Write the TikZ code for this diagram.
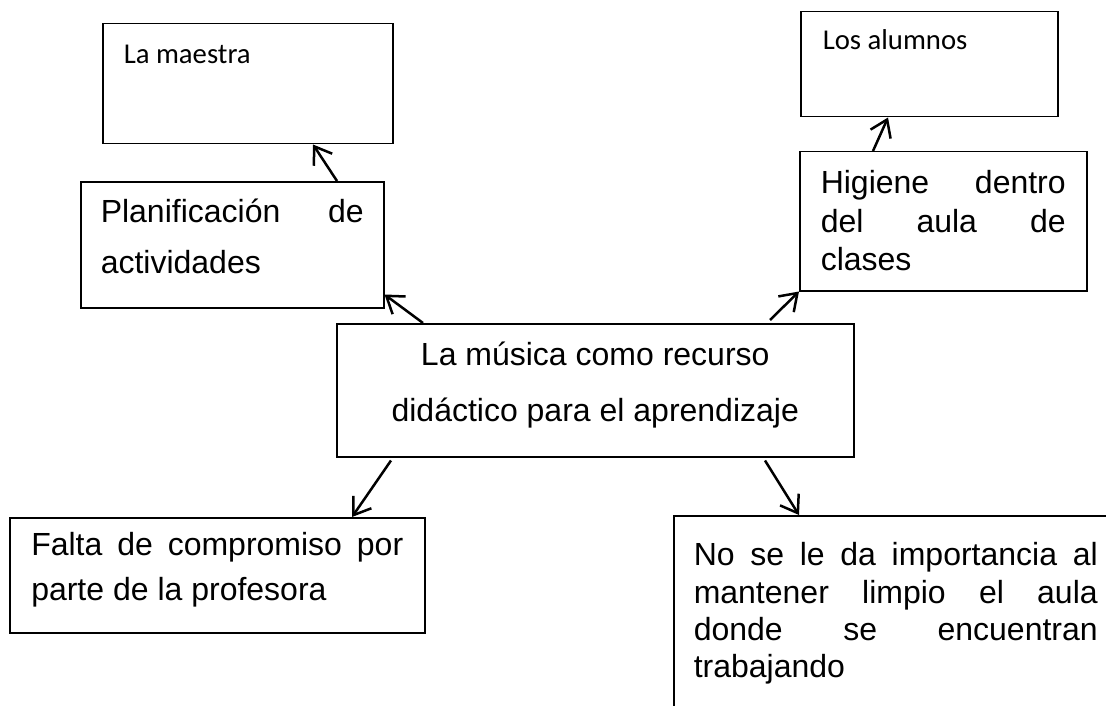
\documentclass[tikz,border=0pt]{standalone}
\usepackage{fontspec}
\setmainfont{Liberation Sans}
\newfontfamily\calibri{Carlito}
\usetikzlibrary{positioning,arrows.meta}

% box text: width, height, first baseline, text
\newcommand{\boxtxt}[4]{\parbox[c][#2][t]{#1}{\hyphenpenalty=10000\rule{0pt}{#3}#4}}

\begin{document}
\begin{tikzpicture}[x=1pt,y=-1pt,
box/.style={draw,rectangle,line width=1.5pt,inner ysep=0pt,anchor=north west},
arr/.style={-{Straight Barb[length=16pt,width=22pt]},line width=2.5pt}]
\useasboundingbox (0,0) rectangle (1106,706);
\clip (0,0) rectangle (1106,706);

\node (maestra) [box,inner xsep=21pt] at (102,23)
    {\boxtxt{248pt}{120pt}{40pt}{\calibri\fontsize{28.7}{34}\selectfont La maestra}};
\node (alumnos) [box,inner xsep=22pt] at (800,11)
    {\boxtxt{213pt}{105pt}{38pt}{\calibri\fontsize{28.7}{34}\selectfont Los alumnos}};

\node (plan) [box,inner xsep=20pt] at (80,181)
    {\boxtxt{263pt}{126pt}{41pt}{\fontsize{32}{51}\selectfont
    Planificación de\linebreak actividades}};
\node (higiene) [box,inner xsep=21pt] at (799,151)
    {\boxtxt{245pt}{139pt}{42pt}{\fontsize{32}{38.5}\selectfont
    Higiene dentro\linebreak del aula de\linebreak clases}};

\node (centro) [box,inner xsep=0pt] at (336,323)
    {\boxtxt{517pt}{133pt}{42pt}{\centering\fontsize{32}{55.5}\selectfont
    La música como recurso\\ didáctico para el aprendizaje}};

\node (falta) [box,inner xsep=21.5pt] at (9,517)
    {\boxtxt{372pt}{115pt}{38pt}{\fontsize{32}{45}\selectfont
    Falta de compromiso por\linebreak parte de la profesora}};
\node (limpio) [box,inner xsep=20pt] at (673,515)
    {\boxtxt{404pt}{210pt}{50pt}{\fontsize{32}{37.3}\selectfont
    No se le da importancia al\linebreak mantener limpio el aula\linebreak
    donde se encuentran\linebreak trabajando}};

\draw[arr] ([xshift=257pt]plan.north west) -- ([xshift=211pt]maestra.south west);
\draw[arr] ([xshift=87pt]centro.north west) -- ([yshift=14pt]plan.south east);
\draw[arr] ([xshift=74pt]higiene.north west) -- ([xshift=88pt]alumnos.south west);
\draw[arr] ([xshift=434pt,yshift=3pt]centro.north west) -- (higiene.south west);
\draw[arr] ([xshift=55pt,yshift=-3pt]centro.south west) -- ([xshift=343pt]falta.north west);
\draw[arr] ([xshift=429pt,yshift=-3pt]centro.south west) -- ([xshift=126pt]limpio.north west);
\end{tikzpicture}
\end{document}
